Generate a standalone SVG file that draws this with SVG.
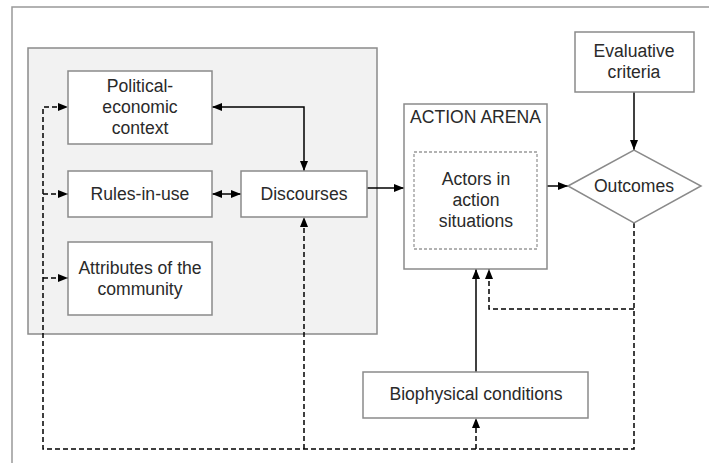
<svg xmlns="http://www.w3.org/2000/svg" width="709" height="463" viewBox="0 0 709 463">
<defs>
<marker id="ah" markerUnits="userSpaceOnUse" markerWidth="11" markerHeight="8" refX="10" refY="4" orient="auto-start-reverse" viewBox="0 0 11 8">
<path d="M0,0 L10,4 L0,8 z" fill="#000"/>
</marker>
<style>
.box{fill:#fff;stroke:#8a8a8a;stroke-width:1.5}
.t{font-family:"Liberation Sans",Arial,sans-serif;font-size:17.6px;fill:#2a2a2a;text-anchor:middle;dominant-baseline:central}
.s{fill:none;stroke:#000;stroke-width:1.5}
.d{fill:none;stroke:#000;stroke-width:1.5;stroke-dasharray:5,3}
</style>
</defs>
<rect width="709" height="463" fill="#fff"/>
<rect x="12" y="7" width="720" height="480" fill="#fff" stroke="#999" stroke-width="1.5"/>
<rect id="context-area" x="28" y="48" width="349" height="286" fill="#f2f2f2" stroke="#8a8a8a" stroke-width="1.5"/>

<g id="connectors">
<path class="s" d="M212,107 H304 V171" marker-start="url(#ah)" marker-end="url(#ah)"/>
<path class="s" d="M212,194 H241" marker-start="url(#ah)" marker-end="url(#ah)"/>
<path class="s" d="M367,188 H404" marker-end="url(#ah)"/>
<path class="s" d="M547,186 H568" marker-end="url(#ah)"/>
<path class="s" d="M634,92 V150" marker-end="url(#ah)"/>
<path class="s" d="M476,372 V269" marker-end="url(#ah)"/>
<path class="d" d="M634,223 V449 H43 V107 H68" marker-end="url(#ah)"/>
<path class="d" d="M43,194 H68" marker-end="url(#ah)"/>
<path class="d" d="M43,278 H68" marker-end="url(#ah)"/>
<path class="d" d="M304,449 V217" marker-end="url(#ah)"/>
<path class="d" d="M476,449 V418" marker-end="url(#ah)"/>
<path class="d" d="M634,309 H489 V269" marker-end="url(#ah)"/>
</g>

<g id="political">
<rect class="box" x="68" y="71" width="144" height="73"/>
<text class="t" x="140" y="86">Political-</text>
<text class="t" x="140" y="107">economic</text>
<text class="t" x="140" y="128">context</text>
</g>
<g id="rules">
<rect class="box" x="68" y="171" width="144" height="46"/>
<text class="t" x="140" y="194">Rules-in-use</text>
</g>
<g id="discourses">
<rect class="box" x="241" y="171" width="126" height="46"/>
<text class="t" x="304" y="194">Discourses</text>
</g>
<g id="attributes">
<rect class="box" x="68" y="242" width="144" height="73"/>
<text class="t" x="140" y="268">Attributes of the</text>
<text class="t" x="140" y="289">community</text>
</g>
<g id="action-arena">
<rect class="box" x="404" y="104" width="143" height="165"/>
<text class="t" x="410" y="117" style="text-anchor:start">ACTION ARENA</text>
<rect x="414" y="152" width="123" height="97" fill="#fff" stroke="#999" stroke-width="1.3" stroke-dasharray="3,2"/>
<text class="t" x="476" y="179">Actors in</text>
<text class="t" x="476" y="200">action</text>
<text class="t" x="476" y="221">situations</text>
</g>
<g id="evaluative">
<rect class="box" x="575" y="32" width="119" height="60"/>
<text class="t" x="634" y="51">Evaluative</text>
<text class="t" x="634" y="72">criteria</text>
</g>
<g id="outcomes">
<polygon class="box" points="568,186 634,150 701,186 634,223"/>
<text class="t" x="634" y="186">Outcomes</text>
</g>
<g id="biophysical">
<rect class="box" x="363" y="372" width="225" height="46"/>
<text class="t" x="476" y="394">Biophysical conditions</text>
</g>
</svg>
